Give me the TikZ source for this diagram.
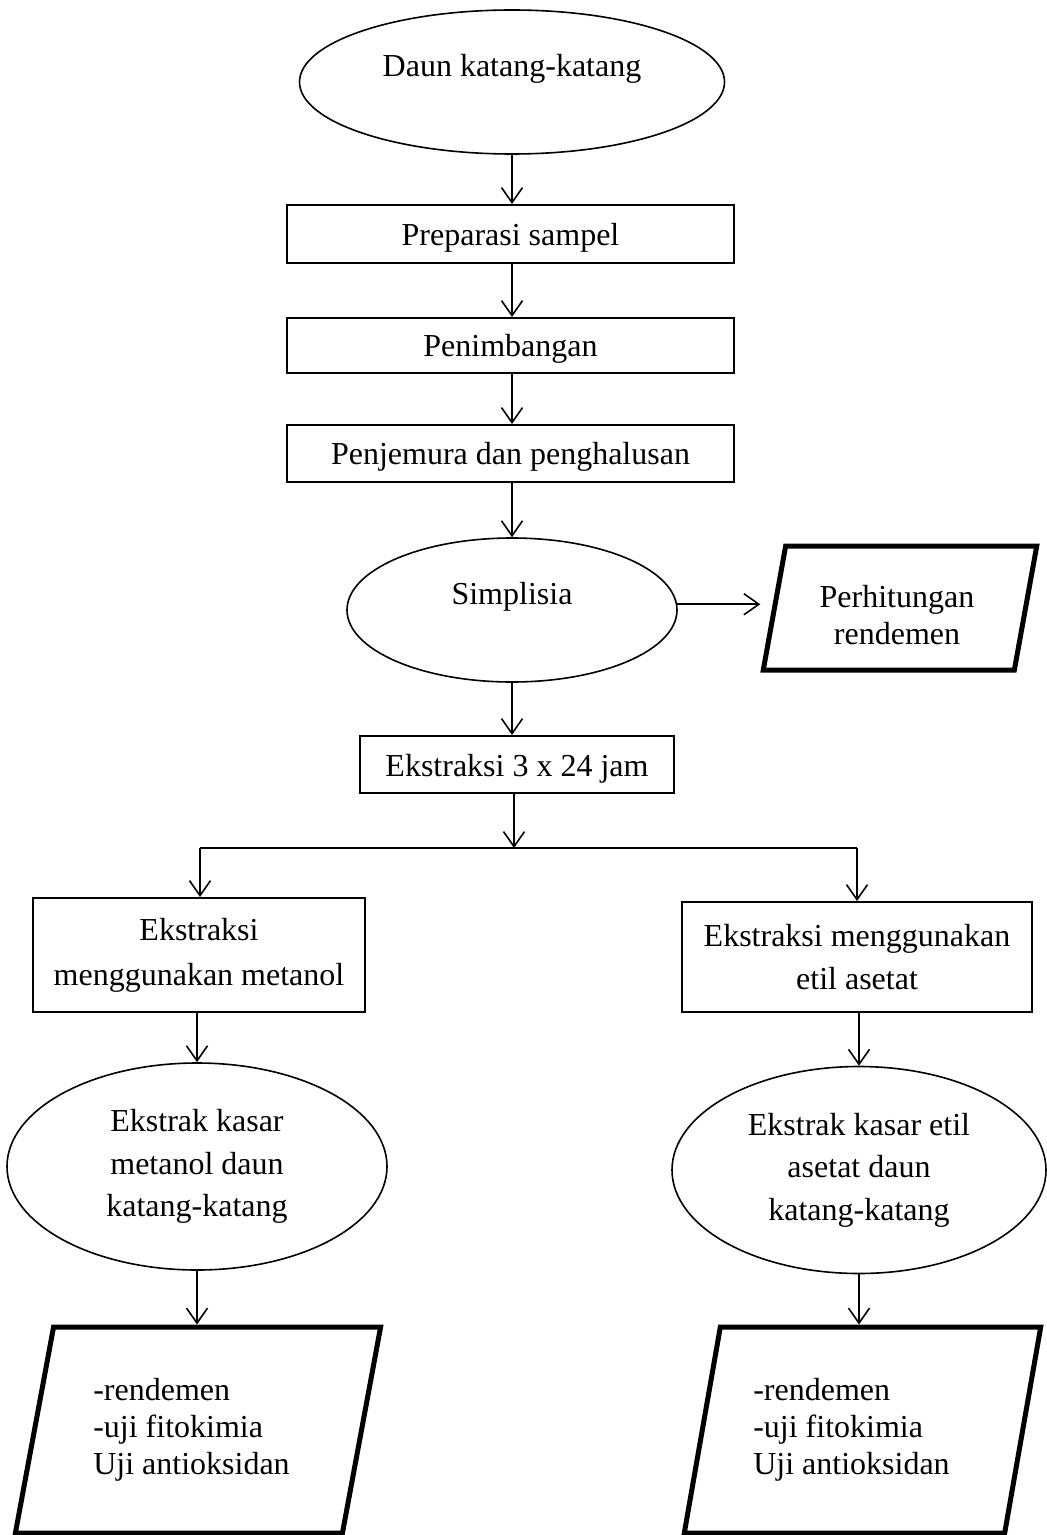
\documentclass[tikz,border=0pt]{standalone}
\usepackage{fontspec}
\setmainfont{Liberation Serif}
\usetikzlibrary{shapes.geometric,arrows.meta}
\newcommand{\placetext}[2]{\raisebox{#1}[0pt][0pt]{#2}}
\tikzset{
  base/.style={draw, inner sep=0pt, align=center, font=\fontsize{16pt}{22.5pt}\selectfont},
  procbox/.style={base, rectangle, line width=1pt},
  termell/.style={base, ellipse, line width=0.8pt, font=\fontsize{16pt}{21.25pt}\selectfont},
  iobox/.style={base, trapezium, trapezium stretches=true, line width=2.5pt},
  arr/.style={draw, line width=0.8pt, -{Straight Barb[length=7.5pt,width=10.5pt]}},
  plainline/.style={draw, line width=1.2pt}
}
\begin{document}
\begin{tikzpicture}[x=0.5pt,y=-0.5pt]
\useasboundingbox (0,0) rectangle (1046,1535);

\node[termell, minimum width=212.5pt, minimum height=72pt] (e1) at (512,82) {\placetext{2.7pt}{Daun katang-katang}};
\node[procbox, minimum width=223.5pt, minimum height=29pt] (b1) at (510.5,234) {\placetext{-5.8pt}{Preparasi sampel}};
\node[procbox, minimum width=223.5pt, minimum height=27.5pt] (b2) at (510.5,345.5) {\placetext{-5.6pt}{Penimbangan}};
\node[procbox, minimum width=223.5pt, minimum height=28.5pt] (b3) at (510.5,453.5) {\placetext{-5.6pt}{Penjemura dan penghalusan}};
\node[termell, minimum width=165pt, minimum height=72pt] (e2) at (512,610) {\placetext{2.7pt}{Simplisia}};
\node[iobox, trapezium left angle=78, trapezium right angle=102, minimum width=137pt, minimum height=62pt,
      font=\fontsize{16pt}{18.5pt}\selectfont] (p1) at (900,608) {\raisebox{-9.75pt}[18.5pt][18.5pt]{\begin{tabular}{@{}c@{}}Perhitungan\\rendemen\end{tabular}}\hspace*{3pt}};
\node[procbox, minimum width=157pt, minimum height=28.5pt] (b4) at (517,764.5) {\placetext{-6pt}{Ekstraksi 3 x 24 jam}};
\coordinate (jn) at (514,848);
\coordinate (jl) at (200,848);
\coordinate (jr) at (857,848);
\node[procbox, minimum width=166pt, minimum height=57pt] (b5) at (199,955) {Ekstraksi\\menggunakan metanol};
\node[procbox, minimum width=175pt, minimum height=55pt, font=\fontsize{16pt}{21.5pt}\selectfont] (b6) at (857,957) {Ekstraksi menggunakan\\etil asetat};
\node[termell, minimum width=190pt, minimum height=103.5pt] (e3) at (197,1166.5) {Ekstrak kasar\\metanol daun\\katang-katang};
\node[termell, minimum width=187pt, minimum height=103.5pt] (e4) at (859,1170) {Ekstrak kasar etil\\asetat daun\\katang-katang};
\node[iobox, trapezium left angle=76, trapezium right angle=104, minimum width=183pt, minimum height=103pt,
      font=\fontsize{16pt}{18.5pt}\selectfont] (p2) at (198,1430) {\begin{tabular}{@{}l@{}}-rendemen\\-uji fitokimia\\Uji antioksidan\end{tabular}\hspace*{6.5pt}};
\node[iobox, trapezium left angle=76, trapezium right angle=104, minimum width=178.5pt, minimum height=103pt,
      font=\fontsize{16pt}{18.5pt}\selectfont] (p3) at (862.5,1430) {\begin{tabular}{@{}l@{}}-rendemen\\-uji fitokimia\\Uji antioksidan\end{tabular}\hspace*{11pt}};

\draw[arr] (e1.south) -- (e1.south |- b1.north);
\draw[arr] (b1.south -| e1.south) -- (e1.south |- b2.north);
\draw[arr] (b2.south -| e1.south) -- (e1.south |- b3.north);
\draw[arr] (b3.south -| e1.south) -- (e2.north);
\draw[arr] (e2.2.5) -- (e2.2.5 -| p1.bottom left corner);
\draw[arr] (e2.south) -- (e2.south |- b4.north);
\draw[arr] (b4.south -| jn) -- (jn);
\draw[plainline] (jl) -- (jr);
\draw[arr] (jl) -- (jl |- b5.north);
\draw[arr] (jr) -- (jr |- b6.north);
\draw[arr] (b5.south -| e3.north) -- (e3.north);
\draw[arr] (b6.south -| e4.north) -- (e4.north);
\draw[arr] (e3.south) -- (e3.south |- p2.north);
\draw[arr] (e4.south) -- (e4.south |- p3.north);
\end{tikzpicture}
\end{document}
